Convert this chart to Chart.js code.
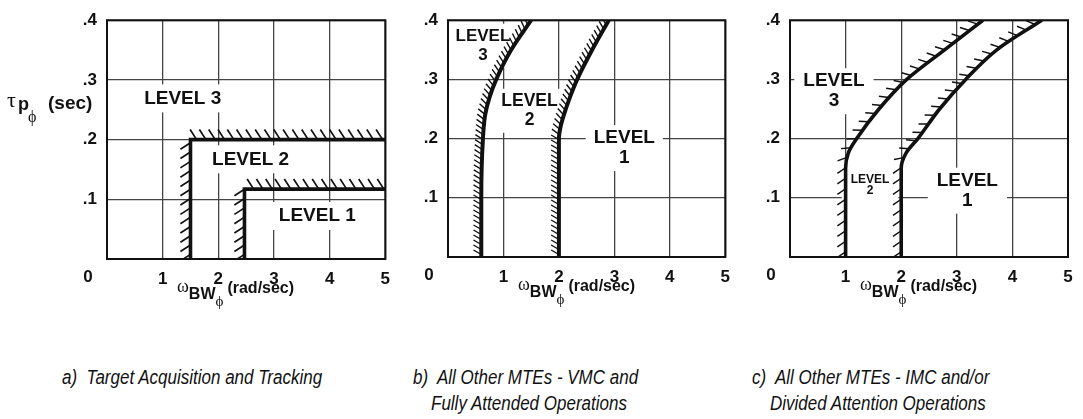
<!DOCTYPE html>
<html>
<head>
<meta charset="utf-8">
<title>Roll bandwidth criteria</title>
<script src="https://cdn.jsdelivr.net/npm/chart.js@4.4.0/dist/chart.umd.min.js"></script>
<style>
  body { margin: 0; background: #fff; width: 1083px; height: 419px; position: relative; overflow: hidden; }
  canvas { position: absolute; top: 0; }
  .cap {
    position: absolute;
    font-family: "Liberation Sans Narrow", "Liberation Sans", Arial, sans-serif;
    font-style: italic;
    font-size: 20px;
    color: #111;
    white-space: pre;
    line-height: 26px;
    transform: scaleX(0.85);
    transform-origin: left center;
  }
</style>
</head>
<body>
<canvas id="chartA" width="400" height="320" style="left:0px"></canvas>
<canvas id="chartB" width="340" height="320" style="left:400px"></canvas>
<canvas id="chartC" width="343" height="320" style="left:740px"></canvas>

<div class="cap" style="left:62px; top:364px">a)  Target Acquisition and Tracking</div>
<div class="cap" style="left:413px; top:364px">b)  All Other MTEs - VMC and</div>
<div class="cap" style="left:431px; top:390px">Fully Attended Operations</div>
<div class="cap" style="left:752px; top:364px">c)  All Other MTEs - IMC and/or</div>
<div class="cap" style="left:770px; top:390px">Divided Attention Operations</div>

<script>
// shared axes
const xTicks = [0, 1, 2, 3, 4, 5];
const xTickLabels = ["", "1", "2", "3", "4", "5"];
const yTicks = [0, 0.1, 0.2, 0.3, 0.4];
const yTickLabels = ["", ".1", ".2", ".3", ".4"];

// a) target acquisition and tracking - boundaries (omega BW, tau p)
const aLevel2BoundW = [1.5, 1.5, 5];
const aLevel2BoundTau = [0, 0.2, 0.2];
const aLevel1BoundW = [2.47, 2.47, 5];
const aLevel1BoundTau = [0, 0.117, 0.117];
const aLabelText = ["LEVEL 3", "LEVEL 2", "LEVEL 1"];
const aLabelW = [1.36, 2.58, 3.78];
const aLabelTau = [0.269, 0.167, 0.072];

// b) all other MTEs - VMC / fully attended
const bLevel2BoundW = [0.6, 0.6, 0.63, 0.67, 0.75, 0.87, 1.14, 1.5];
const bLevel2BoundTau = [0, 0.1, 0.2, 0.24, 0.27, 0.3, 0.35, 0.4];
const bLevel1BoundW = [2.0, 2.0, 2.0, 2.03, 2.09, 2.2, 2.33, 2.6, 2.9];
const bLevel1BoundTau = [0, 0.1, 0.2, 0.22, 0.24, 0.27, 0.3, 0.35, 0.4];
const bLabelText = ["LEVEL\n3", "LEVEL\n2", "LEVEL\n1"];
const bLabelW = [0.63, 1.47, 3.18];
const bLabelTau = [0.357, 0.247, 0.184];

// c) all other MTEs - IMC / divided attention
const cLevel2BoundW = [1.0, 1.0, 1.0, 1.05, 1.2, 1.6, 2.1, 2.78, 3.47];
const cLevel2BoundTau = [0, 0.1, 0.15, 0.176, 0.2, 0.25, 0.3, 0.35, 0.4];
const cLevel1BoundW = [2.0, 2.0, 2.0, 2.09, 2.3, 2.69, 3.16, 3.72, 4.53];
const cLevel1BoundTau = [0, 0.1, 0.15, 0.176, 0.2, 0.25, 0.3, 0.35, 0.4];
const cLabelText = ["LEVEL\n3", "LEVEL\n2", "LEVEL\n1"];
const cLabelW = [0.79, 1.44, 3.19];
const cLabelTau = [0.28, 0.121, 0.112];

const INK = "#111";
const GRID = "#444";
const SANS = "'Liberation Sans', Arial, Helvetica, sans-serif";
const SERIF = "'Liberation Serif', 'DejaVu Serif', 'Times New Roman', serif";
const TICK_FONT = { family: SANS, size: 17, weight: "bold" };
const PHI = "\u03D5";

function toPoints(xs, ys) {
  return xs.map((x, i) => ({ x: x, y: ys[i] }));
}

// walk the drawn line (incl. bezier control points) in pixel space
function samplePath(meta) {
  const pts = meta.data;
  const out = [];
  for (let i = 0; i < pts.length; i++) {
    const p = pts[i];
    if (i === 0) { out.push([p.x, p.y]); continue; }
    const q = pts[i - 1];
    if (q.cp2x !== undefined && p.cp1x !== undefined) {
      for (let s = 1; s <= 30; s++) {
        const t = s / 30, u = 1 - t;
        const x = u*u*u*q.x + 3*u*u*t*q.cp2x + 3*u*t*t*p.cp1x + t*t*t*p.x;
        const y = u*u*u*q.y + 3*u*u*t*q.cp2y + 3*u*t*t*p.cp1y + t*t*t*p.y;
        out.push([x, y]);
      }
    } else {
      out.push([p.x, p.y]);
    }
  }
  return out;
}

function drawHatches(ctx, poly, h) {
  const a = h.angle * Math.PI / 180;
  let next = h.spacing / 2;
  ctx.beginPath();
  for (let i = 1; i < poly.length; i++) {
    const [x0, y0] = poly[i - 1];
    const [x1, y1] = poly[i];
    const seg = Math.hypot(x1 - x0, y1 - y0);
    if (!(seg > 0)) continue;
    const dx = (x1 - x0) / seg, dy = (y1 - y0) / seg;
    const nx = dy, ny = -dx; // left side of travel
    const vx = nx * Math.cos(a) - dx * Math.sin(a);
    const vy = ny * Math.cos(a) - dy * Math.sin(a);
    let d = next;
    while (d <= seg) {
      const px = x0 + dx * d, py = y0 + dy * d;
      ctx.moveTo(px, py);
      ctx.lineTo(px + vx * h.length, py + vy * h.length);
      d += h.spacing;
    }
    next = d - seg;
  }
  ctx.lineWidth = h.width;
  ctx.strokeStyle = INK;
  ctx.stroke();
}

function drawLevelLabels(chart, s) {
  const { ctx, scales: { x, y } } = chart;
  s.labelText.forEach((text, i) => {
    const size = s.labelSizes[i];
    const lh = s.labelLineHeights[i];
    const cx = x.getPixelForValue(s.labelW[i]);
    const cy = y.getPixelForValue(s.labelTau[i]);
    ctx.font = `bold ${size}px ${SANS}`;
    const lines = text.split("\n");
    const w = Math.max(...lines.map(t => ctx.measureText(t).width));
    const bw = w + 2 * s.labelPadX, bh = lines.length * lh + 2 * s.labelPadY;
    ctx.fillStyle = "#fff";
    ctx.fillRect(cx - bw / 2, cy - bh / 2, bw, bh);
    ctx.fillStyle = INK;
    ctx.textAlign = "center";
    ctx.textBaseline = "middle";
    lines.forEach((t, k) => ctx.fillText(t, cx, cy - (lines.length - 1) * lh / 2 + k * lh));
  });
}

function drawXTitle(ctx, left, base) {
  let x = left;
  ctx.textAlign = "left";
  ctx.textBaseline = "alphabetic";
  ctx.fillStyle = INK;
  ctx.font = `18px ${SERIF}`;
  ctx.fillText("ω", x, base);
  x += ctx.measureText("ω").width;
  ctx.font = `bold 16px ${SANS}`;
  ctx.fillText("BW", x, base + 7);
  x += ctx.measureText("BW").width;
  ctx.font = `15px ${SERIF}`;
  ctx.fillText(PHI, x, base + 14);
  x += ctx.measureText(PHI).width + 4;
  ctx.font = `bold 16px ${SANS}`;
  ctx.fillText("(rad/sec)", x, base + 1);
}

function drawYTitle(ctx) {
  ctx.textAlign = "left";
  ctx.textBaseline = "alphabetic";
  ctx.fillStyle = INK;
  ctx.font = `22px ${SERIF}`;
  ctx.fillText("τ", 7, 107);
  ctx.font = `bold 18px ${SANS}`;
  ctx.fillText("p", 18, 110);
  ctx.font = `16px ${SERIF}`;
  ctx.fillText(PHI, 28, 122);
  ctx.font = `bold 19px ${SANS}`;
  ctx.fillText("(sec)", 48, 109);
}

function makePanel(canvasId, s) {
  const decor = {
    id: "decor_" + canvasId,
    beforeDatasetsDraw(chart) {
      const { ctx, chartArea: ca } = chart;
      ctx.save();
      drawLevelLabels(chart, s);
      ctx.lineWidth = 2;
      ctx.strokeStyle = INK;
      ctx.strokeRect(ca.left, ca.top, ca.right - ca.left, ca.bottom - ca.top);
      ctx.restore();
    },
    afterDatasetsDraw(chart) {
      const { ctx, chartArea: ca } = chart;
      ctx.save();
      ctx.beginPath();
      ctx.rect(ca.left, ca.top, ca.right - ca.left, ca.bottom - ca.top);
      ctx.clip();
      chart.data.datasets.forEach((ds, i) => {
        drawHatches(ctx, samplePath(chart.getDatasetMeta(i)), s.hatch);
      });
      ctx.restore();
    },
    afterDraw(chart) {
      const { ctx, chartArea: ca } = chart;
      ctx.save();
      ctx.fillStyle = INK;
      ctx.font = `bold 17px ${SANS}`;
      ctx.textAlign = "center";
      ctx.textBaseline = "middle";
      ctx.fillText("0", ca.left - 19, ca.bottom + 18);
      drawXTitle(ctx, ca.left + 70, ca.bottom + 33);
      if (s.yTitle) drawYTitle(ctx);
      ctx.restore();
    },
  };

  const lineStyle = {
    showLine: true,
    borderColor: INK,
    borderWidth: s.lineWidth,
    pointRadius: 0,
    fill: false,
  };
  if (s.smooth) lineStyle.cubicInterpolationMode = "monotone";

  return new Chart(document.getElementById(canvasId), {
    type: "scatter",
    data: {
      datasets: [
        { label: "Level 2/3 boundary", data: toPoints(s.l23w, s.l23t), ...lineStyle },
        { label: "Level 1/2 boundary", data: toPoints(s.l12w, s.l12t), ...lineStyle },
      ],
    },
    options: {
      indexAxis: "y", // tau rises monotonically along every boundary
      responsive: false,
      animation: false,
      devicePixelRatio: 1,
      events: [],
      layout: { padding: { left: 0, top: s.padTop, right: s.padRight, bottom: 0 } },
      plugins: { legend: { display: false }, tooltip: { enabled: false } },
      scales: {
        x: {
          type: "linear",
          position: "bottom",
          min: 0,
          max: 5,
          afterBuildTicks: (sc) => { sc.ticks = xTicks.map(v => ({ value: v })); },
          afterFit: (sc) => { sc.height = s.xAxisHeight; },
          ticks: {
            callback: (v, i) => xTickLabels[i],
            font: TICK_FONT,
            color: INK,
            padding: 10,
            maxRotation: 0,
            autoSkip: false,
          },
          grid: { color: GRID, lineWidth: 1.3, drawTicks: false },
          border: { display: false },
        },
        y: {
          type: "linear",
          position: "left",
          min: 0,
          max: 0.4,
          afterBuildTicks: (sc) => { sc.ticks = yTicks.map(v => ({ value: v })); },
          afterFit: (sc) => { sc.width = s.yAxisWidth; },
          ticks: {
            callback: (v, i) => yTickLabels[i],
            font: TICK_FONT,
            color: INK,
            padding: 10,
            autoSkip: false,
          },
          grid: { color: GRID, lineWidth: 1.3, drawTicks: false },
          border: { display: false },
        },
      },
    },
    plugins: [decor],
  });
}

document.addEventListener("DOMContentLoaded", () => {
  makePanel("chartA", {
    l23w: aLevel2BoundW, l23t: aLevel2BoundTau,
    l12w: aLevel1BoundW, l12t: aLevel1BoundTau,
    labelText: aLabelText, labelW: aLabelW, labelTau: aLabelTau,
    labelSizes: [19, 19, 19], labelLineHeights: [20, 20, 20],
    labelPadX: 8, labelPadY: 4,
    smooth: false, lineWidth: 3.6,
    hatch: { spacing: 9.3, length: 12, angle: 33, width: 1.7 },
    padTop: 15, padRight: 14, yAxisWidth: 107, xAxisHeight: 61,
    yTitle: true,
  });
  makePanel("chartB", {
    l23w: bLevel2BoundW, l23t: bLevel2BoundTau,
    l12w: bLevel1BoundW, l12t: bLevel1BoundTau,
    labelText: bLabelText, labelW: bLabelW, labelTau: bLabelTau,
    labelSizes: [17, 17.5, 19], labelLineHeights: [19, 19, 20],
    labelPadX: 8, labelPadY: 3,
    smooth: true, lineWidth: 4,
    hatch: { spacing: 5, length: 9, angle: -30, width: 1.4 },
    padTop: 14, padRight: 13, yAxisWidth: 48, xAxisHeight: 63,
    yTitle: false,
  });
  makePanel("chartC", {
    l23w: cLevel2BoundW, l23t: cLevel2BoundTau,
    l12w: cLevel1BoundW, l12t: cLevel1BoundTau,
    labelText: cLabelText, labelW: cLabelW, labelTau: cLabelTau,
    labelSizes: [19, 12, 19], labelLineHeights: [20, 11, 20],
    labelPadX: 9, labelPadY: 3,
    smooth: true, lineWidth: 3.6,
    hatch: { spacing: 10.5, length: 10, angle: 35, width: 1.5 },
    padTop: 14, padRight: 15, yAxisWidth: 50, xAxisHeight: 63,
    yTitle: false,
  });
});
</script>
</body>
</html>
